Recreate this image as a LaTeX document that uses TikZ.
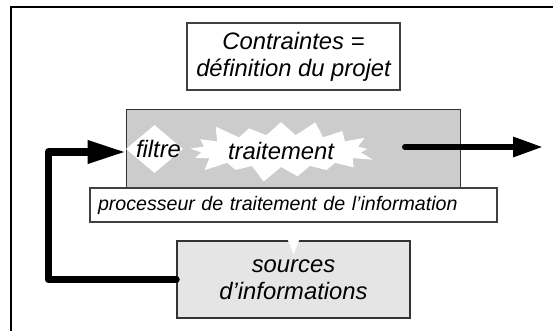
\documentclass[tikz,border=0pt]{standalone}
\usepackage{fontspec}
\setmainfont{Liberation Sans}
\usepackage{tikz}
\usetikzlibrary{positioning}
\usetikzlibrary{shapes.geometric,shapes.symbols}
\usetikzlibrary{arrows.meta,calc}

\begin{document}
\begin{tikzpicture}[x=1pt,y=-1pt,
    every node/.style={font=\itshape\fontsize{23.8}{27}\selectfont, align=center},
    box/.style={draw=black!75, line width=1.2pt, fill=white, inner sep=0pt}]
	%% some definitions
	\def\fbW{7pt} % width of the feedback arrow
	\def\outW{6pt} % width of the output arrow

	\useasboundingbox (0,0) rectangle (553,331);

	% frame
	\draw[line width=2.2pt] (553,7) -- (11,7) -- (11,331);

	\node[box, minimum width=213pt, minimum height=67pt] (contraintes) at (293.5,56.5) {Contraintes =\\définition du projet};

	% processor
	\node[box, fill=gray!40, draw=black!80, line width=1pt, minimum width=334pt, minimum height=78pt] (proc) at (293,149) {};
	\node[diamond, fill=white, minimum width=57pt, minimum height=48pt, inner sep=0pt] (filtre) at (154.5,149) {};
	\node (filtretxt) at ([xshift=4pt]filtre.center) {filtre};
	\node[starburst, fill=white, minimum width=196pt, minimum height=68pt, inner sep=0pt,
	      starburst point height=18pt] (traitement) at (281,151) {traitement};

	\node[box, text width=391pt, align=left, inner xsep=8pt, minimum height=34pt,
	      font=\itshape\fontsize{19.6}{22}\selectfont] (proclabel) at (293.5,205) {processeur de traitement de l’information};

	\node[box, fill=gray!20, draw=black!80, line width=1.5pt, minimum width=233pt, minimum height=77pt] (sources) at (293.5,279.5) {sources\\d’informations};
	\fill[white] ($(sources.north)+(-6,-1)$) -- ++(12,0) -- ($(sources.north)+(0,14)$) -- cycle;

	\begin{scope}[line cap=round, line join=round]
		\draw[line width=\fbW, -{Triangle[length=38pt,width=22pt]}] (sources.west) -| (48,152) -- (proc.west |- 0,152);
		\coordinate (outstart) at (405,147);
		\coordinate (outend) at (543,147);
		\draw[line width=\outW, -{Triangle[length=30pt,width=19pt]}] (outstart) -- (outend);
	\end{scope}
\end{tikzpicture}
\end{document}
